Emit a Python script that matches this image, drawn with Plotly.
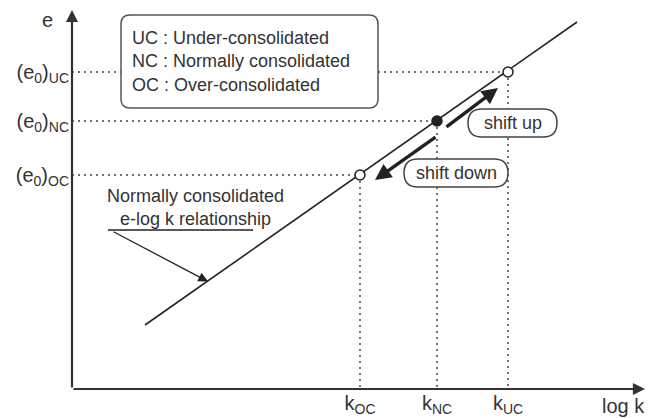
import plotly.graph_objects as go

# ---- data (abstract log k / void ratio units) ----
states = ["OC", "NC", "UC"]
log_k = [2.88, 3.65, 4.36]
e0 = [2.14, 2.68, 3.17]
filled = [False, True, False]
k_labels = ["k<sub>OC</sub>", "k<sub>NC</sub>", "k<sub>UC</sub>"]
e_labels = ["(e<sub>0</sub>)<sub>OC</sub>", "(e<sub>0</sub>)<sub>NC</sub>", "(e<sub>0</sub>)<sub>UC</sub>"]
line_log_k = [0.73, 5.05]
line_e = [0.64, 3.67]
legend_lines = ["UC : Under-consolidated", "NC : Normally consolidated", "OC : Over-consolidated"]

FONT = "Liberation Sans, Arial, sans-serif"
TXT = "#333333"
INK = "#222222"

fig = go.Figure()

# dotted guide lines
gx, gy = [], []
for k, e in zip(log_k, e0):
    gx += [0, k, None, k, k, None]
    gy += [e, e, None, e, 0, None]
fig.add_trace(go.Scatter(x=gx, y=gy, mode="lines",
                         line=dict(color="#444444", width=1.5, dash="2px,4px"),
                         hoverinfo="skip", showlegend=False))

# normally consolidated e-log k line
fig.add_trace(go.Scatter(x=line_log_k, y=line_e, mode="lines",
                         line=dict(color=INK, width=1.6),
                         hoverinfo="skip", showlegend=False))

# state points
fig.add_trace(go.Scatter(x=log_k, y=e0, mode="markers",
                         marker=dict(size=10, symbol="circle",
                                     color=[INK if f else "white" for f in filled],
                                     line=dict(color=INK, width=1.5)),
                         hoverinfo="skip", showlegend=False))


def rounded(x0, x1, y0, y1, r):
    return (f"M{x0+r},{y0} L{x1-r},{y0} Q{x1},{y0} {x1},{y0+r} "
            f"L{x1},{y1-r} Q{x1},{y1} {x1-r},{y1} L{x0+r},{y1} "
            f"Q{x0},{y1} {x0},{y1-r} L{x0},{y0+r} Q{x0},{y0} {x0+r},{y0} Z")


shapes = [
    dict(type="path", xref="x", yref="y", path=rounded(0.49, 3.06, 2.81, 3.74, 0.09),
         line=dict(color="#555555", width=1.5), fillcolor="white", layer="above"),
    dict(type="path", xref="x", yref="y", path=rounded(3.96, 4.85, 2.52, 2.80, 0.14),
         line=dict(color="#444444", width=1.5), fillcolor="white", layer="above"),
    dict(type="path", xref="x", yref="y", path=rounded(3.32, 4.36, 2.02, 2.30, 0.14),
         line=dict(color="#444444", width=1.5), fillcolor="white", layer="above"),
    dict(type="line", xref="x", yref="y", x0=0.36, x1=1.81, y0=1.59, y1=1.59,
         line=dict(color=INK, width=1.5)),
]

ann = []
# axes with arrows
ann.append(dict(x=5.73, y=0, ax=0, ay=0, xref="x", yref="y", axref="x", ayref="y",
                showarrow=True, arrowhead=2, arrowsize=1.1, arrowwidth=2.2,
                arrowcolor="#333333", text=""))
ann.append(dict(x=0, y=3.79, ax=0, ay=0, xref="x", yref="y", axref="x", ayref="y",
                showarrow=True, arrowhead=2, arrowsize=1.1, arrowwidth=2.2,
                arrowcolor="#333333", text=""))
# axis titles (paper refs so they can sit outside the plotting area)
ann.append(dict(x=0, y=3.69 / 3.89, xref="paper", yref="paper", xshift=-17,
                xanchor="right", yanchor="middle", text="e", showarrow=False,
                font=dict(size=20, color=TXT, family=FONT)))
ann.append(dict(x=5.28 / 5.77, y=0, xref="paper", yref="paper", yshift=-17,
                yanchor="middle", text="log k", showarrow=False, xanchor="left",
                font=dict(size=20, color=TXT, family=FONT)))
# legend box text
ann.append(dict(x=0.58, y=3.28, xref="x", yref="y", text="<br>".join(legend_lines),
                showarrow=False, xanchor="left", align="left",
                font=dict(size=18, color=TXT, family=FONT)))
# shift labels
ann.append(dict(x=4.405, y=2.66, xref="x", yref="y", text="shift up", showarrow=False,
                font=dict(size=18, color=TXT, family=FONT)))
ann.append(dict(x=3.84, y=2.16, xref="x", yref="y", text="shift down", showarrow=False,
                font=dict(size=18, color=TXT, family=FONT)))
# shift arrows
ann.append(dict(x=4.26, y=3.01, ax=3.73, ay=2.61, xref="x", yref="y", axref="x", ayref="y",
                showarrow=True, arrowhead=2, arrowsize=0.95, arrowwidth=3.4,
                arrowcolor=INK, text=""))
ann.append(dict(x=3.03, y=2.09, ax=3.65, ay=2.53, xref="x", yref="y", axref="x", ayref="y",
                showarrow=True, arrowhead=2, arrowsize=0.95, arrowwidth=3.4,
                arrowcolor=INK, text=""))
# relationship label with leader arrow
ann.append(dict(x=1.23, y=1.82, xref="x", yref="y",
                text="Normally consolidated<br>e-log k relationship", showarrow=False,
                font=dict(size=18, color=TXT, family=FONT)))
ann.append(dict(x=1.36, y=1.075, ax=0.40, ay=1.58, xref="x", yref="y", axref="x", ayref="y",
                showarrow=True, arrowhead=2, arrowsize=1.5, arrowwidth=1.3,
                arrowcolor=INK, text=""))

fig.update_layout(
    width=649, height=418,
    margin=dict(l=72, r=0, t=0, b=29),
    paper_bgcolor="white", plot_bgcolor="white",
    showlegend=False,
    shapes=shapes, annotations=ann,
    font=dict(family=FONT, color=TXT, size=18),
    xaxis=dict(range=[0, 5.77], showgrid=False, zeroline=False, showline=False,
               tickvals=log_k, ticktext=k_labels, ticks="", automargin=False,
               tickfont=dict(size=20, color=TXT, family=FONT), ticklabelstandoff=0),
    yaxis=dict(range=[0, 3.89], showgrid=False, zeroline=False, showline=False,
               tickvals=e0, ticktext=e_labels, ticks="", automargin=False,
               tickfont=dict(size=20, color=TXT, family=FONT), ticklabelstandoff=2),
)

fig.write_html("out.html", config={"displayModeBar": False},
               post_script="document.body.style.margin='0';document.body.style.overflow='hidden';")
